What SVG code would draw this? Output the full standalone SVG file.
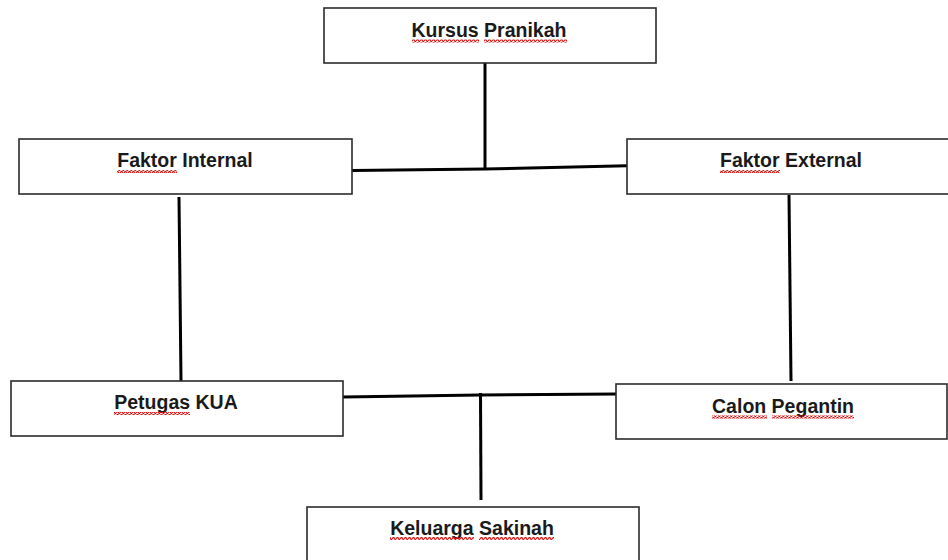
<svg xmlns="http://www.w3.org/2000/svg" width="948" height="560" viewBox="0 0 948 560">
  <style>
    .box { fill: #ffffff; stroke: #2b2b2b; stroke-width: 1.6; }
    .lbl { font-family: "Liberation Sans", Arial, sans-serif; font-weight: bold; font-size: 19.5px; fill: #1a1a1a; text-anchor: middle; }
    .conn { stroke: #000000; stroke-width: 3; fill: none; stroke-linecap: butt; }
    .sq { fill: url(#squig); }
  </style>
  <defs>
    <pattern id="squig" x="0" y="0" width="4" height="3" patternUnits="userSpaceOnUse">
      <path d="M0,2.3 L1,0.7 L2,0.7 L3,2.3 L4,2.3" stroke="#e01818" stroke-width="1.2" fill="none"/>
    </pattern>
  </defs>
  <rect width="948" height="560" fill="#ffffff"/>

  <g id="connectors">
    <line class="conn" x1="485" y1="63" x2="485" y2="170"/>
    <polyline class="conn" points="352,170.5 485,169 627,165.8"/>
    <line class="conn" x1="179" y1="197" x2="181" y2="381"/>
    <line class="conn" x1="789" y1="195" x2="791" y2="381"/>
    <polyline class="conn" points="343,397 480,395 617,394"/>
    <line class="conn" x1="480.5" y1="393" x2="481" y2="500"/>
  </g>

  <g id="kursus-pranikah">
    <rect class="box" x="324" y="8" width="332" height="55"/>
    <text class="lbl" x="489" y="37">Kursus Pranikah</text>
    <rect class="sq" x="412" y="39.5" width="67" height="3"/>
    <rect class="sq" x="484" y="39.5" width="83" height="3"/>
  </g>

  <g id="faktor-internal">
    <rect class="box" x="19" y="139" width="333" height="55"/>
    <text class="lbl" x="185" y="167">Faktor Internal</text>
    <rect class="sq" x="117" y="170" width="60" height="3"/>
  </g>

  <g id="faktor-external">
    <rect class="box" x="627" y="139" width="330" height="55"/>
    <text class="lbl" x="791" y="167">Faktor External</text>
    <rect class="sq" x="720" y="170" width="60" height="3"/>
  </g>

  <g id="petugas-kua">
    <rect class="box" x="11" y="381" width="332" height="55"/>
    <text class="lbl" x="176" y="409">Petugas KUA</text>
    <rect class="sq" x="114" y="412" width="76" height="3"/>
  </g>

  <g id="calon-pegantin">
    <rect class="box" x="616" y="384" width="331" height="55"/>
    <text class="lbl" x="783" y="413">Calon Pegantin</text>
    <rect class="sq" x="712" y="415.5" width="55" height="3"/>
    <rect class="sq" x="772" y="415.5" width="82" height="3"/>
  </g>

  <g id="keluarga-sakinah">
    <rect class="box" x="307" y="507" width="332" height="60"/>
    <text class="lbl" x="472" y="535">Keluarga Sakinah</text>
    <rect class="sq" x="390" y="537" width="84" height="3"/>
    <rect class="sq" x="479" y="537" width="75" height="3"/>
  </g>
</svg>
